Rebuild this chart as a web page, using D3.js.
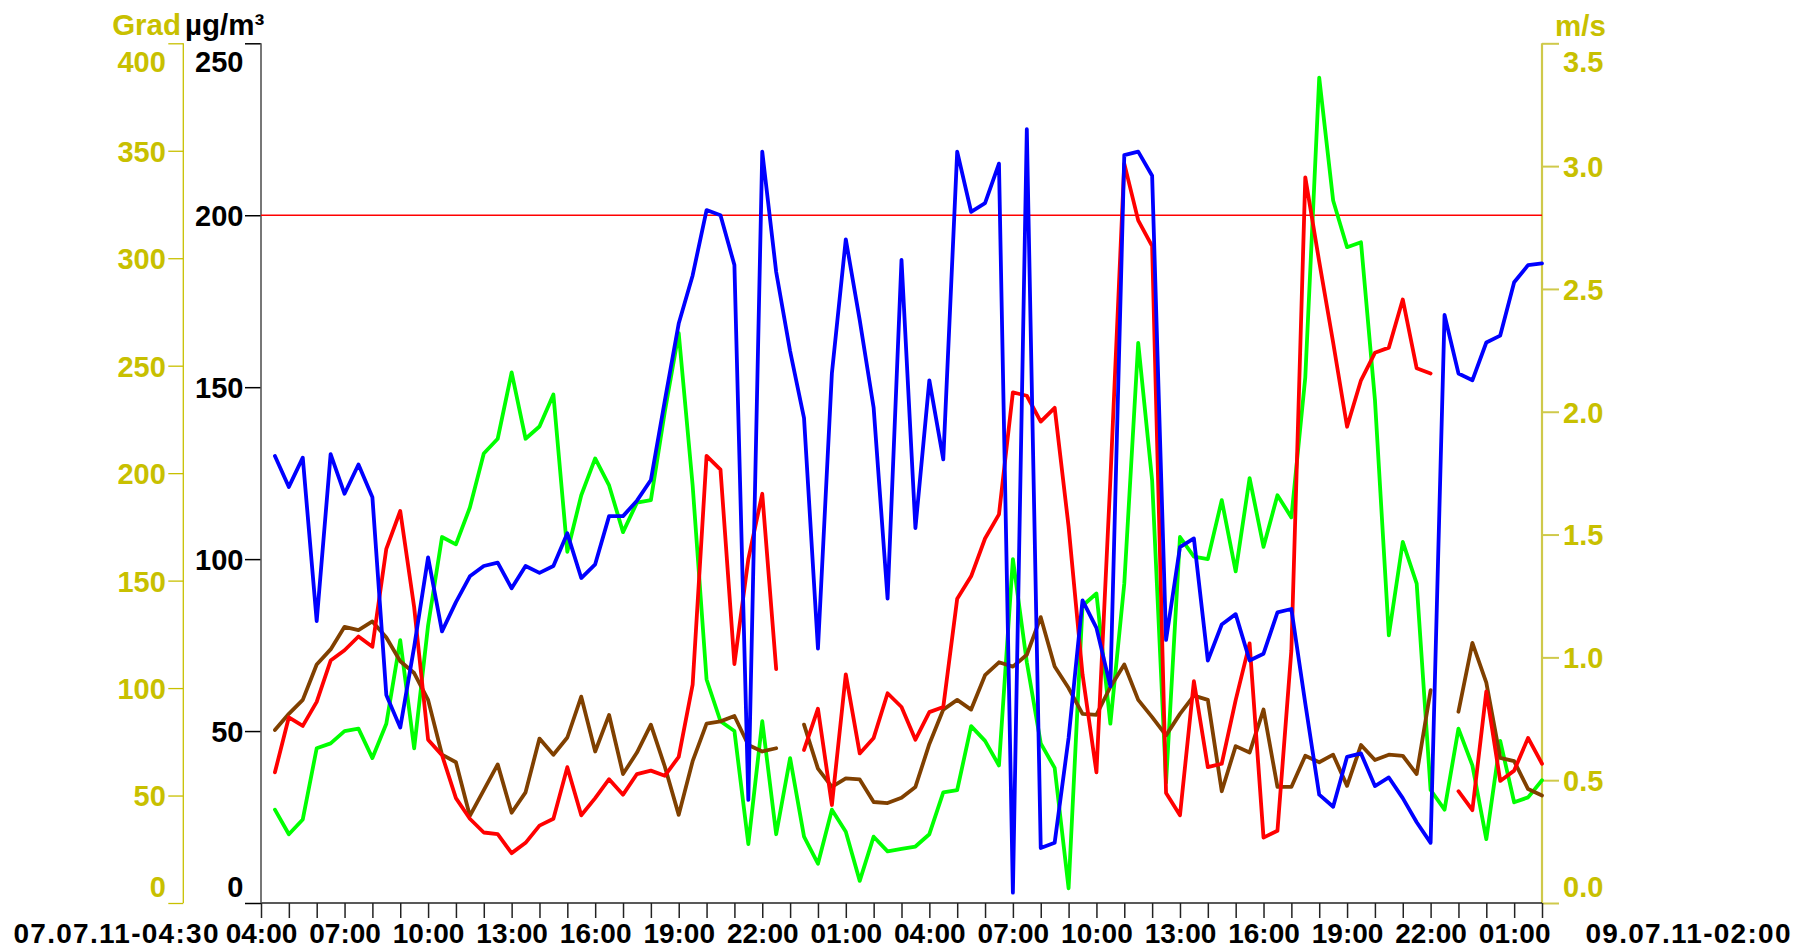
<!DOCTYPE html>
<html>
<head>
<meta charset="utf-8">
<script src="https://cdn.jsdelivr.net/npm/d3@7"></script>
<style>
  html, body { margin: 0; padding: 0; background: #ffffff; }
  svg text { font-family: "Liberation Sans", Arial, Helvetica, sans-serif; font-weight: bold; }
</style>
</head>
<body>
<svg id="chart" width="1794" height="949"></svg>
<script>
// ---- measurement series: half-hourly values, first sample 07.07.11 04:30 ----
const firstSample = new Date(2011, 6, 7, 4, 30);
const sampleStepMinutes = 30;

// concentration (µg/m³), blue
const concBlue = [
  130, 121, 129.5, 82, 130.5, 119, 127.5, 118, 60.5, 51,
  74.5, 100.5, 79, 87.5, 95, 98, 99, 91.5, 98, 96,
  98, 107.5, 94.5, 98.5, 112.5, 112.5, 117, 123, 146, 168.5,
  182.5, 201.5, 200, 185.5, 30, 218.5, 183.5, 160.5, 141, 74,
  154, 193, 169.5, 144, 88.5, 187, 109, 152, 129, 218.5,
  201, 203.5, 215, 3, 225, 16, 17.5, 48, 88, 80,
  63, 217.5, 218.5, 211.5, 76.5, 103.5, 106, 70.5, 81, 84,
  70.5, 72.5, 84.5, 85.5, 58, 31.5, 28, 42.5, 43.5, 34,
  36.5, 30.5, 23.5, 17.5, 171, 154, 152, 163, 165, 180.5,
  185.5, 186
];

// concentration (µg/m³), red; null = no measurement
const concRed = [
  38, 54, 51.5, 58.5, 70.5, 73.5, 77.5, 74.5, 103, 114,
  86, 47.5, 43, 30.5, 24.5, 20.5, 20, 14.5, 17.5, 22.5,
  24.5, 39.5, 25.5, 30.5, 36, 31.5, 37.5, 38.5, 37, 42.5,
  63.5, 130, 126, 69.5, 100, 119, 68, null, 44.5, 56.5,
  28.5, 66.5, 43.5, 48, 61, 57, 47.5, 55.5, 57, 88.5,
  95, 106, 113, 148.5, 147.5, 140, 144, 109.5, 66.5, 38,
  123, 215, 198.5, 191, 32, 25.5, 64.5, 39.5, 40.5, 59,
  75.5, 19, 21, 73.5, 211, 186.5, 163, 138.5, 152, 160,
  161.5, 175.5, 155.5, 154, null, 32.5, 27, 61.5, 35.5, 38.5,
  48, 40.5
];

// wind direction (Grad), brown; null = no measurement
const windDir = [
  80.5, 88, 94.5, 111, 118, 128.5, 127, 131, 123.5, 112.5,
  107, 94.5, 69, 65.5, 40.5, 52.5, 64.5, 42, 51.5, 76.5,
  69, 77, 96, 70.5, 87.5, 60, 70, 83, 63.5, 41,
  66, 83.5, 84.5, 87, 73.5, 70.5, 72, null, 83, 62.5,
  54, 58, 57.5, 47, 46.5, 49, 54, 74, 90, 94.5,
  90, 106, 112, 110, 115.5, 133, 110, 100, 88, 87.5,
  100.5, 111, 94.5, 86.5, 78, 88, 96.5, 94.5, 52, 73,
  70, 90, 54, 54, 68.5, 65.5, 69, 54.5, 73.5, 66.5,
  69, 68.5, 60, 99, null, 89, 121, 102.5, 67.5, 66,
  53, 50
];

// wind speed (m/s), green
const windSpeed = [
  0.38, 0.28, 0.34, 0.63, 0.65, 0.70, 0.71, 0.59, 0.73, 1.07,
  0.63, 1.13, 1.49, 1.46, 1.61, 1.83, 1.89, 2.16, 1.89, 1.94,
  2.07, 1.43, 1.66, 1.81, 1.70, 1.51, 1.63, 1.64, 2.00, 2.32,
  1.70, 0.91, 0.74, 0.70, 0.24, 0.74, 0.28, 0.59, 0.27, 0.16,
  0.38, 0.29, 0.09, 0.27, 0.21, 0.22, 0.23, 0.28, 0.45, 0.46,
  0.72, 0.66, 0.56, 1.40, 0.98, 0.65, 0.55, 0.06, 1.21, 1.26,
  0.73, 1.30, 2.28, 1.72, 0.49, 1.49, 1.41, 1.40, 1.64, 1.35,
  1.73, 1.45, 1.66, 1.57, 2.14, 3.36, 2.86, 2.67, 2.69, 2.05,
  1.09, 1.47, 1.30, 0.46, 0.38, 0.71, 0.56, 0.26, 0.66, 0.41,
  0.43, 0.50
];

// ---- axes ----
const timeStart = new Date(2011, 6, 7, 4, 0);
const timeEnd = new Date(2011, 6, 9, 2, 0);
const hourLabels = ["04:00", "07:00", "10:00", "13:00", "16:00", "19:00", "22:00", "01:00",
                    "04:00", "07:00", "10:00", "13:00", "16:00", "19:00", "22:00", "01:00"];
const labelEveryHours = 3;
const concTicks = [0, 50, 100, 150, 200, 250];
const gradTicks = [0, 50, 100, 150, 200, 250, 300, 350, 400];
const msTicks = [0, 0.5, 1.0, 1.5, 2.0, 2.5, 3.0, 3.5];
const limitValue = 200;
const startLabel = "07.07.11-04:30";
const endLabel = "09.07.11-02:00";

// ---- layout ----
const W = 1794, H = 949;
const plotLeft = 261, plotRight = 1542, plotTop = 43.3, plotBottom = 903;
const gradAxisX = 183.3;
const yellowText = "#c8c000";
const yellowLine = "#cfc94a";
const fontY = 29, fontX = 28, fontUnit = 29.5;
const xLabelBaseline = 943;

const svg = d3.select("#chart");
svg.append("rect").attr("width", W).attr("height", H).attr("fill", "#fff");

const x = d3.scaleTime().domain([timeStart, timeEnd]).range([plotLeft, plotRight]);
const yConc = d3.scaleLinear().domain([0, 250]).range([plotBottom, plotTop]);
const yGrad = d3.scaleLinear().domain([0, 400]).range([plotBottom, plotTop]);
const yMs = d3.scaleLinear().domain([0, 3.5]).range([plotBottom, plotTop]);

const sampleTimes = concBlue.map((_, i) => d3.timeMinute.offset(firstSample, i * sampleStepMinutes));

// vertical label offsets so that end labels stay inside the axis span
function placeYLabels(sel, maxVal, minVal, fs) {
  sel.selectAll(".tick text")
    .attr("dy", null)
    .attr("y", d => d === maxVal ? fs * 0.98 : d === minVal ? -6.3 : fs * 0.358);
}

// left concentration axis
const axConc = d3.axisLeft(yConc).tickValues(concTicks).tickSize(16).tickPadding(1.5).tickSizeOuter(0);
const gConc = svg.append("g").attr("transform", `translate(${plotLeft},0)`).call(axConc);
gConc.select(".domain").remove();
gConc.selectAll(".tick line").attr("stroke", "#000").attr("stroke-width", 1.5);
gConc.selectAll(".tick text").attr("font-size", fontY).attr("fill", "#000");
placeYLabels(gConc, 250, 0, fontY);

// left wind-direction axis
const axGrad = d3.axisLeft(yGrad).tickValues(gradTicks).tickSize(15).tickPadding(2.5).tickSizeOuter(0);
const gGrad = svg.append("g").attr("transform", `translate(${gradAxisX},0)`).call(axGrad);
gGrad.select(".domain").remove();
gGrad.selectAll(".tick line").attr("stroke", yellowText).attr("stroke-width", 1.3);
gGrad.selectAll(".tick text").attr("font-size", fontY).attr("fill", yellowText);
placeYLabels(gGrad, 400, 0, fontY);
gGrad.append("line").attr("x1", 0).attr("x2", 0).attr("y1", plotTop).attr("y2", plotBottom)
  .attr("stroke", yellowText).attr("stroke-width", 1.3);

// right wind-speed axis
const axMs = d3.axisRight(yMs).tickValues(msTicks).tickSize(17).tickPadding(4).tickSizeOuter(0)
  .tickFormat(d3.format(".1f"));
const gMs = svg.append("g").attr("transform", `translate(${plotRight},0)`).call(axMs);
gMs.select(".domain").remove();
gMs.selectAll(".tick line").attr("stroke", yellowLine).attr("stroke-width", 2);
gMs.selectAll(".tick text").attr("font-size", fontY).attr("fill", yellowText);
placeYLabels(gMs, 3.5, 0, fontY);
gMs.append("line").attr("x1", 0).attr("x2", 0).attr("y1", plotTop).attr("y2", plotBottom)
  .attr("stroke", yellowLine).attr("stroke-width", 2.2);

// time axis: a tick every hour, a label every three hours
const hourTicks = d3.timeHour.range(timeStart, d3.timeHour.offset(timeEnd, 1));
const labelByTime = new Map();
hourLabels.forEach((lab, k) => labelByTime.set(+d3.timeHour.offset(timeStart, k * labelEveryHours), lab));
const axX = d3.axisBottom(x).tickValues(hourTicks).tickSize(15).tickSizeOuter(0)
  .tickFormat(d => labelByTime.get(+d) || "");
const gX = svg.append("g").attr("transform", `translate(0,${plotBottom})`).call(axX);
gX.select(".domain").remove();
gX.selectAll(".tick line").attr("stroke", "#222").attr("stroke-width", 1.5);
gX.selectAll(".tick text").attr("font-size", fontX).attr("fill", "#000")
  .attr("dy", null).attr("y", xLabelBaseline - plotBottom);
svg.append("line").attr("x1", plotLeft).attr("x2", plotRight).attr("y1", plotBottom).attr("y2", plotBottom)
  .attr("stroke", "#222").attr("stroke-width", 1.5);

// concentration axis line
svg.append("line").attr("x1", plotLeft).attr("x2", plotLeft).attr("y1", plotTop).attr("y2", plotBottom)
  .attr("stroke", "#555").attr("stroke-width", 1.6);

// range labels at both ends of the time axis
svg.append("text").attr("x", 116).attr("y", xLabelBaseline).attr("text-anchor", "middle")
  .attr("font-size", fontX).attr("fill", "#000")
  .attr("textLength", 205).attr("lengthAdjust", "spacing").text(startLabel);
svg.append("text").attr("x", 1688).attr("y", xLabelBaseline).attr("text-anchor", "middle")
  .attr("font-size", fontX).attr("fill", "#000")
  .attr("textLength", 205).attr("lengthAdjust", "spacing").text(endLabel);

// unit labels
svg.append("text").attr("x", 181).attr("y", 35).attr("text-anchor", "end")
  .attr("font-size", fontUnit).attr("fill", yellowText).text("Grad");
svg.append("text").attr("x", 185).attr("y", 35).attr("text-anchor", "start")
  .attr("font-size", fontUnit).attr("fill", "#000").text("µg/m³");
svg.append("text").attr("x", 1555).attr("y", 36).attr("text-anchor", "start")
  .attr("font-size", fontUnit).attr("fill", yellowText).text("m/s");

// limit value line
svg.append("line").attr("x1", plotLeft).attr("x2", plotRight)
  .attr("y1", yConc(limitValue)).attr("y2", yConc(limitValue))
  .attr("stroke", "#ff0000").attr("stroke-width", 1.3);

// series
function drawSeries(values, yScale, color) {
  const line = d3.line()
    .defined(d => d != null)
    .x((d, i) => x(sampleTimes[i]))
    .y(d => yScale(d));
  svg.append("path").datum(values)
    .attr("d", line)
    .attr("fill", "none")
    .attr("stroke", color)
    .attr("stroke-width", 3.8)
    .attr("stroke-linejoin", "round")
    .attr("stroke-linecap", "round");
}
drawSeries(windSpeed, yMs, "#00ff00");
drawSeries(windDir, yGrad, "#804000");
drawSeries(concRed, yConc, "#ff0000");
drawSeries(concBlue, yConc, "#0000ff");
</script>
</body>
</html>
